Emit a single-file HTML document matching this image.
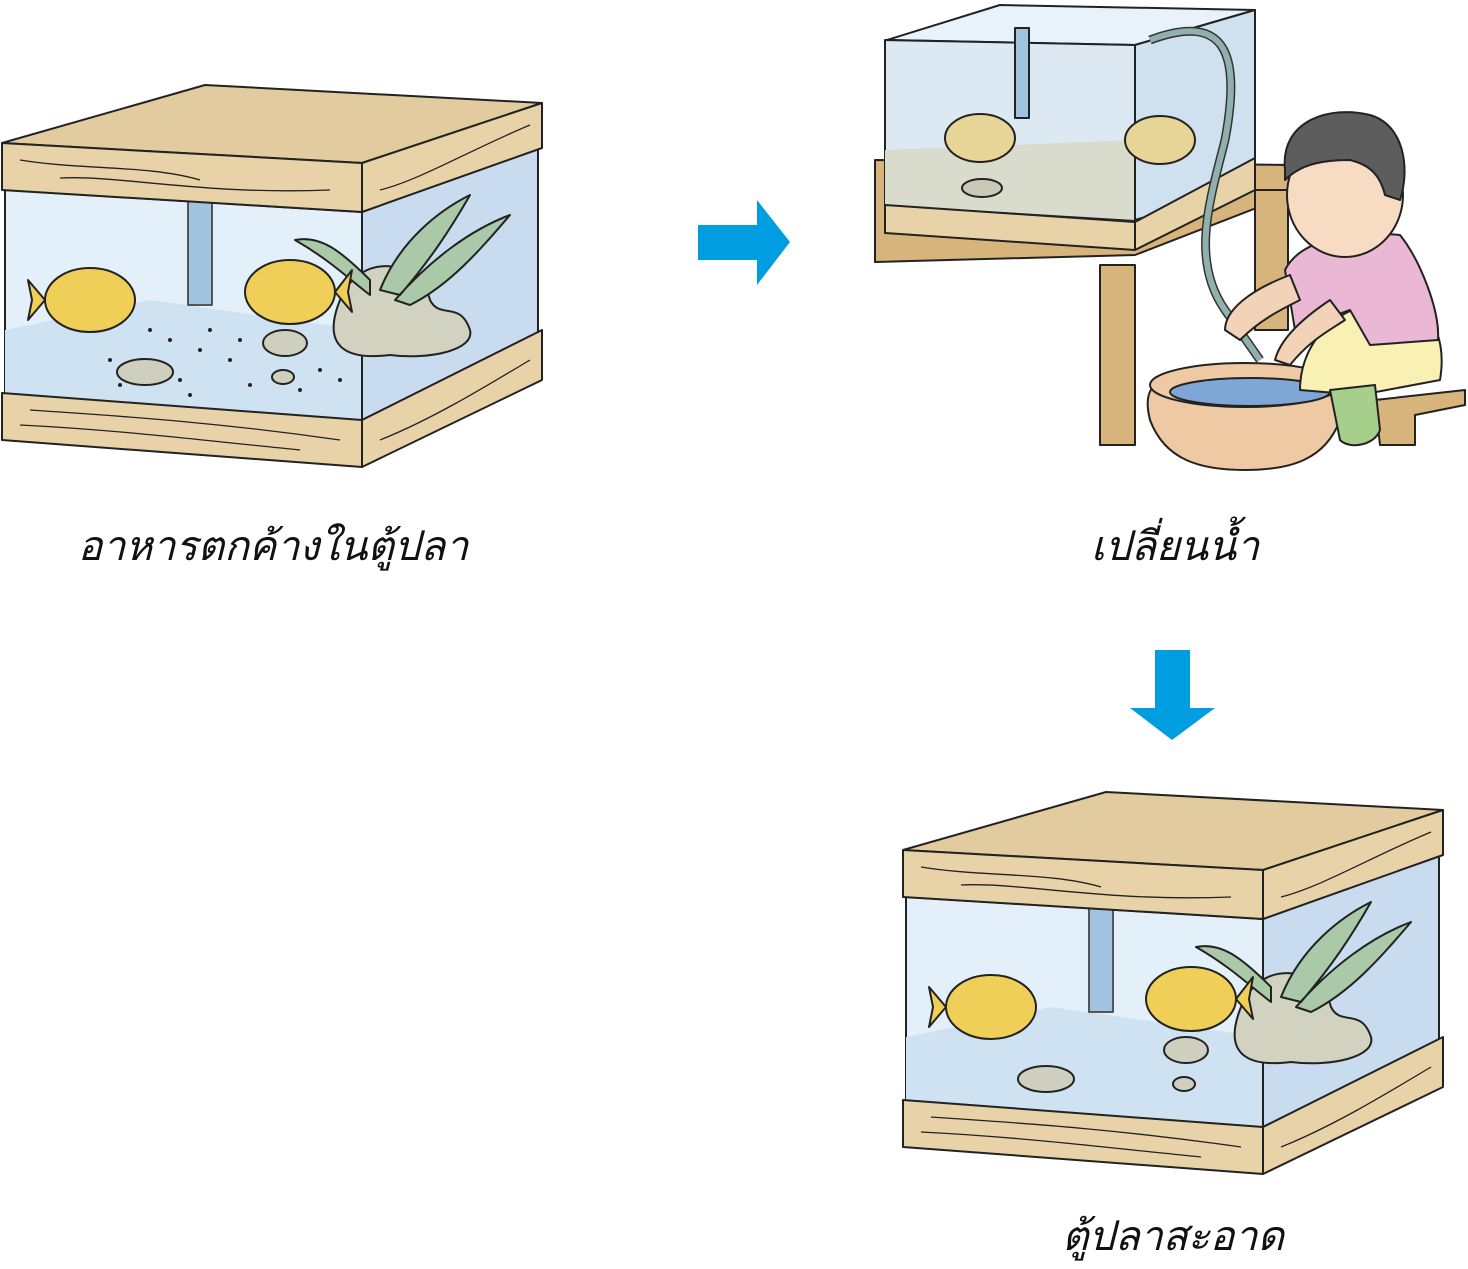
<!DOCTYPE html>
<html><head><meta charset="utf-8"><style>
html,body{margin:0;padding:0;background:#fff;}
svg{display:block}
text{font-family:"Liberation Sans","DejaVu Sans","Noto Sans CJK SC",sans-serif;font-style:italic;fill:#111;font-size:41px}
</style></head><body>
<svg width="1468" height="1269" viewBox="0 0 1468 1269" xmlns="http://www.w3.org/2000/svg">
<defs>
<g id="tank" stroke="#222" stroke-width="2" stroke-linejoin="round">
  <polygon points="5,190 362,212 362,420 5,395" fill="#e3f0fa"/>
  <polygon points="5,330 150,300 362,330 362,420 5,395" fill="#cfe2f2" stroke="none"/>
  <polygon points="362,212 538,148 538,335 362,420" fill="#c9dcef"/>
  <rect x="188" y="200" width="24" height="105" fill="#9fc3e0" stroke="#555"/>
  <ellipse cx="285" cy="343" rx="22" ry="13" fill="#cfcfc0"/>
  <ellipse cx="145" cy="372" rx="28" ry="13" fill="#cfcfc0"/>
  <ellipse cx="283" cy="377" rx="11" ry="7" fill="#cfcfc0"/>
  <path d="M340,300 C360,250 420,260 430,300 C440,320 460,300 470,330 C475,350 430,360 390,355 C350,360 320,350 340,300Z" fill="#d2d2c0"/>
  <path d="M380,290 C400,240 440,210 470,195 C450,230 430,260 400,295Z M395,300 C430,260 470,230 510,215 C480,250 450,285 410,305Z M370,280 C340,250 320,235 295,240 C330,260 350,280 370,295Z" fill="#a9c9a8"/>
  <ellipse cx="90" cy="300" rx="45" ry="32" fill="#f0cf58"/>
  <polygon points="45,300 28,280 32,300 28,320" fill="#f0cf58"/>
  <ellipse cx="290" cy="292" rx="45" ry="32" fill="#f0cf58"/>
  <polygon points="335,292 352,270 348,292 352,312" fill="#f0cf58"/>
  <polygon points="2,143 205,85 542,103 362,163" fill="#e2cc9f"/>
  <polygon points="2,143 362,163 362,212 2,190" fill="#e7d3a7"/>
  <polygon points="362,163 542,103 542,148 362,212" fill="#e7d3a7"/>
  <polygon points="2,393 362,420 362,467 2,440" fill="#e7d3a7"/>
  <polygon points="362,420 542,330 542,380 362,467" fill="#e7d3a7"/>
  <path d="M20,160 C80,170 150,165 200,180 M60,178 C120,175 200,195 330,190 M30,410 C100,415 200,420 340,440 M20,425 C120,430 200,440 300,450 M380,190 C420,180 470,150 530,125 M380,440 C430,420 480,390 530,360" fill="none" stroke-width="1.3"/>
</g>
</defs>

<use href="#tank"/>
<g fill="#222">
<circle cx="150" cy="330" r="2"/><circle cx="170" cy="340" r="2"/><circle cx="200" cy="350" r="2"/><circle cx="230" cy="360" r="2"/><circle cx="120" cy="385" r="2"/><circle cx="180" cy="380" r="2"/><circle cx="250" cy="385" r="2"/><circle cx="320" cy="370" r="2"/><circle cx="210" cy="330" r="2"/><circle cx="300" cy="390" r="2"/><circle cx="340" cy="380" r="2"/><circle cx="190" cy="395" r="2"/><circle cx="240" cy="340" r="2"/><circle cx="110" cy="360" r="2"/>
</g>
<use href="#tank" transform="translate(901,707)"/>

<g stroke="#222" stroke-width="2" stroke-linejoin="round">
  <polygon points="875,160 1290,165 1290,195 1135,255 875,262" fill="#d6b47c"/>
  <rect x="1100" y="265" width="35" height="180" fill="#d6b47c"/>
  <rect x="1255" y="190" width="33" height="140" fill="#d6b47c"/>
  <polygon points="887,40 1000,5 1255,10 1135,45" fill="#e8f2fa"/>
  <polygon points="885,40 1135,45 1135,220 885,205" fill="#dde9f2"/>
  <polygon points="885,150 1135,140 1135,220 885,205" fill="#d9dccc" stroke="none"/>
  <polygon points="1135,45 1255,10 1255,185 1135,220" fill="#cfe0ef"/>
  <polygon points="885,205 1135,222 1135,250 885,233" fill="#e7d3a7"/>
  <polygon points="1135,222 1255,158 1255,190 1135,250" fill="#e7d3a7"/>
  <rect x="1015" y="28" width="14" height="90" fill="#9fc3e0"/>
  <ellipse cx="980" cy="138" rx="35" ry="24" fill="#e6d597"/>
  <ellipse cx="1160" cy="140" rx="35" ry="24" fill="#e6d597"/>
  <ellipse cx="982" cy="188" rx="20" ry="9" fill="#c9c9b8"/>
  <path d="M1150,40 C1230,10 1240,60 1225,140 C1210,200 1190,260 1225,310 L1260,360" fill="none" stroke="#333" stroke-width="9"/>
  <path d="M1150,40 C1230,10 1240,60 1225,140 C1210,200 1190,260 1225,310 L1260,360" fill="none" stroke="#8fb0ac" stroke-width="6"/>
  <path d="M1150,420 C1140,380 1160,370 1245,368 C1330,370 1350,380 1340,420 C1325,460 1290,470 1245,470 C1200,470 1165,460 1150,420Z" fill="#efc9a4"/>
  <ellipse cx="1245" cy="385" rx="95" ry="22" fill="#efc9a4"/>
  <ellipse cx="1250" cy="392" rx="80" ry="14" fill="#7fa7d6"/>
  <polygon points="1375,400 1465,390 1465,405 1415,415 1415,445 1380,445" fill="#d6b47c"/>
  <path d="M1300,390 C1300,340 1340,300 1400,300 C1440,310 1445,350 1440,380 L1360,395Z" fill="#f8f1b3"/>
  <path d="M1330,390 L1340,440 C1350,450 1375,445 1380,430 L1375,385Z" fill="#a6cf8b"/>
  <path d="M1285,270 C1300,240 1350,230 1400,235 C1420,260 1440,310 1438,340 L1370,345 L1350,310 L1295,330Z" fill="#eab8d4"/>
  <path d="M1290,275 C1250,290 1225,310 1225,330 L1240,340 C1260,320 1280,310 1300,300Z" fill="#f3d3b8"/>
  <path d="M1330,300 C1300,320 1280,340 1275,360 L1290,365 C1310,340 1330,330 1345,320Z" fill="#f3d3b8"/>
  <ellipse cx="1345" cy="195" rx="58" ry="62" fill="#f7dcc3"/>
  <path d="M1285,170 C1280,120 1330,105 1370,115 C1405,125 1410,170 1400,200 L1385,195 C1380,175 1370,165 1350,160 C1320,160 1300,165 1285,180Z" fill="#5d5d5d"/>
</g>
<g fill="#009ee0">
  <polygon points="698,225 757,225 757,200 790,242 757,285 757,260 698,260"/>
  <polygon points="1155,650 1190,650 1190,708 1215,708 1172,740 1130,708 1155,708"/>
</g>
<text x="273" y="560" text-anchor="middle">อาหารตกค้างในตู้ปลา</text>
<text x="1175" y="560" text-anchor="middle">เปลี่ยนน้ำ</text>
<text x="1173" y="1250" text-anchor="middle">ตู้ปลาสะอาด</text>
</svg>
</body></html>
